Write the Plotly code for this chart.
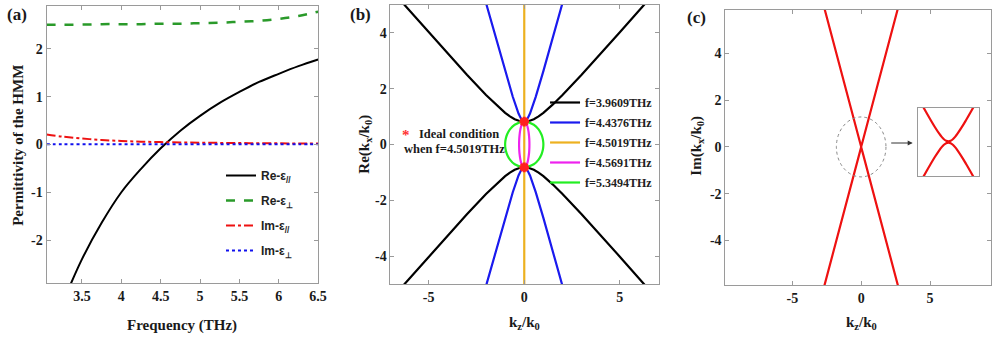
import plotly.graph_objects as go

# ---------------- data ----------------
# (a) permittivity vs frequency
freq_re_par = [3.30, 3.50, 3.75, 4.00, 4.25, 4.50, 4.75, 5.00, 5.25, 5.50, 5.75, 6.00, 6.25, 6.50]
re_eps_par = [-3.14, -2.40, -1.64, -1.00, -0.51, -0.08, 0.29, 0.60, 0.87, 1.10, 1.31, 1.48, 1.64, 1.78]
freq = [3.05, 3.25, 3.50, 3.75, 4.00, 4.25, 4.50, 4.75, 5.00, 5.25, 5.50, 5.75, 6.00, 6.25, 6.50]
re_eps_perp = [2.51, 2.51, 2.51, 2.52, 2.52, 2.52, 2.53, 2.53, 2.54, 2.55, 2.57, 2.59, 2.63, 2.69, 2.78]
im_eps_par = [0.21, 0.165, 0.125, 0.095, 0.075, 0.06, 0.05, 0.043, 0.038, 0.034, 0.03, 0.027, 0.025, 0.022, 0.02]
im_eps_perp = [0.003, 0.003, 0.003, 0.003, 0.003, 0.003, 0.003, 0.003, 0.003, 0.003, 0.003, 0.003, 0.004, 0.005, 0.006]
a_xticks = [3.5, 4, 4.5, 5, 5.5, 6, 6.5]
a_xlabels = ["3.5", "4", "4.5", "5", "5.5", "6", "6.5"]
a_yticks = [-2, -1, 0, 1, 2]
a_ylabels = ["-2", "-1", "0", "1", "2"]

# (b) Re(kx/k0) vs kz/k0 (upper branches; lower branches are mirror images)
kz_f1 = [-6.3, -5.0, -4.0, -3.0, -2.0, -1.5, -1.0, -0.75, -0.5, -0.25, 0.0, 0.25, 0.5, 0.75, 1.0, 1.5, 2.0, 3.0, 4.0, 5.0, 6.3]
kx_f1 = [5.03, 4.02, 3.25, 2.50, 1.775, 1.437, 1.136, 1.009, 0.908, 0.842, 0.819, 0.842, 0.908, 1.009, 1.136, 1.437, 1.775, 2.50, 3.25, 4.02, 5.03]
kz_f2 = [-2.0, -1.5, -1.0, -0.6, -0.3, -0.15, 0.0, 0.15, 0.3, 0.6, 1.0, 1.5, 2.0]
kx_f2 = [5.07, 3.84, 2.63, 1.71, 1.111, 0.90, 0.819, 0.90, 1.111, 1.71, 2.63, 3.84, 5.07]
kz_f3 = [0.0, 0.0]
kx_f3 = [-5.0, 5.0]
kz_f4 = [-0.27, -0.2687, -0.2619, -0.243, -0.2025, -0.135, 0.0, 0.135, 0.2025, 0.243, 0.2619, 0.2687, 0.27]
kx_f4 = [0.0, 0.08, 0.20, 0.357, 0.542, 0.71, 0.82, 0.71, 0.542, 0.357, 0.20, 0.08, 0.0]
kz_f5 = [-1.0, -0.995, -0.97, -0.9, -0.75, -0.5, 0.0, 0.5, 0.75, 0.9, 0.97, 0.995, 1.0]
kx_f5 = [0.0, 0.08, 0.20, 0.357, 0.542, 0.71, 0.82, 0.71, 0.542, 0.357, 0.20, 0.08, 0.0]
ideal_kz = [0.0, 0.0]
ideal_kx = [0.82, -0.82]
freq_labels = ["f=3.9609THz", "f=4.4376THz", "f=4.5019THz", "f=4.5691THz", "f=5.3494THz"]
k_xticks = [-5, 0, 5]
k_xlabels = ["-5", "0", "5"]
k_yticks = [-4, -2, 0, 2, 4]
k_ylabels = ["-4", "-2", "0", "2", "4"]

# (c) Im(kx/k0) vs kz/k0
kz_im = [-2.7, -2.0, -1.0, -0.5, -0.1, 0.0, 0.1, 0.5, 1.0, 2.0, 2.7]
kx_im = [5.99, 4.44, 2.22, 1.11, 0.222, 0.01, 0.222, 1.11, 2.22, 4.44, 5.99]
kz_zoom = [-0.14, -0.12, -0.10, -0.08, -0.06, -0.04, -0.03, -0.02, -0.01, 0.0, 0.01, 0.02, 0.03, 0.04, 0.06, 0.08, 0.10, 0.12, 0.14]
kx_zoom = [0.2437, 0.2009, 0.1588, 0.1177, 0.0783, 0.0425, 0.0271, 0.0145, 0.006, 0.003, 0.006, 0.0145, 0.0271, 0.0425, 0.0783, 0.1177, 0.1588, 0.2009, 0.2437]

# ---------------- helpers ----------------
def mirror(xs, ys):
    return list(xs) + [None] + list(xs), list(ys) + [None] + [-v for v in ys]

def loop(xs, ys):
    return list(xs) + list(reversed(xs)), list(ys) + [-v for v in reversed(ys)]

def bold(labels):
    return ["<b>%s</b>" % s for s in labels]

W, H = 1000, 339
def px(x):
    return x / W
def py(y):
    return 1 - y / H

SERIF = "Liberation Serif, Times New Roman, serif"
SANS = "Liberation Sans, Arial, sans-serif"
GRAY = "#9a9a9a"

fig = go.Figure()

# (a)
a_traces = [
    (freq_re_par, re_eps_par, "black", 2, "solid", "Re-ε<sub>//</sub>"),
    (freq, re_eps_perp, "#2a9a2a", 2.5, "dash", "Re-ε<sub>⊥</sub>"),
    (freq, im_eps_par, "#ee1111", 2, "dashdot", "Im-ε<sub>//</sub>"),
    (freq, im_eps_perp, "#1010ee", 2, "dot", "Im-ε<sub>⊥</sub>"),
]
for i, (xs, ys, c, w, d, nm) in enumerate(a_traces):
    fig.add_trace(go.Scatter(x=xs, y=ys, mode="lines", line=dict(color=c, width=w, dash=d, shape="spline"),
                             name=nm, xaxis="x", yaxis="y", legend="legend", legendgroup="a%d" % i))

# (b)
colors_b = ["black", "#1a1aee", "#EDB120", "#ee22ee", "#22ee22"]
x1, y1 = mirror(kz_f1, kx_f1)
x2, y2 = mirror(kz_f2, kx_f2)
x4, y4 = loop(kz_f4, kx_f4)
x5, y5 = loop(kz_f5, kx_f5)
series_b = [(x1, y1, "linear"), (x2, y2, "linear"), (kz_f3, kx_f3, "linear"), (x4, y4, "spline"), (x5, y5, "spline")]
for i, ((xs, ys, shp), c, lab) in enumerate(zip(series_b, colors_b, freq_labels)):
    fig.add_trace(go.Scatter(x=xs, y=ys, mode="lines", line=dict(color=c, width=2.2, shape=shp),
                             name=lab, xaxis="x2", yaxis="y2", legend="legend2", legendgroup="b%d" % i))
fig.add_trace(go.Scatter(x=ideal_kz, y=ideal_kx, mode="markers",
                         marker=dict(symbol="asterisk-open", size=8, color="#ff2020", line=dict(color="#ff2020", width=3)),
                         showlegend=False, xaxis="x2", yaxis="y2"))

# (c)
xc, yc = mirror(kz_im, kx_im)
fig.add_trace(go.Scatter(x=xc, y=yc, mode="lines", line=dict(color="#ee1111", width=2.2),
                         showlegend=False, xaxis="x3", yaxis="y3"))
xz, yz = mirror(kz_zoom, kx_zoom)
fig.add_trace(go.Scatter(x=xz, y=yz, mode="lines", line=dict(color="#ee1111", width=2.2, shape="spline"),
                         showlegend=False, xaxis="x4", yaxis="y4"))

tickfont = dict(family=SERIF, size=14, color="#1a1a1a", weight="bold")
def axis(domain, rng, tickvals, ticktext, anchor):
    return dict(domain=domain, range=rng, tickvals=tickvals, ticktext=bold(ticktext), ticks="inside", ticklen=4,
                tickcolor=GRAY, showline=True, linecolor=GRAY, linewidth=1, mirror="ticks", showgrid=False,
                zeroline=False, tickfont=tickfont, anchor=anchor, fixedrange=True)

inset_ax = dict(showticklabels=False, ticks="", showline=True, linecolor=GRAY, mirror=True,
                showgrid=False, zeroline=False, fixedrange=True)

fig.update_layout(
    width=W, height=H, margin=dict(l=0, r=0, t=0, b=0),
    paper_bgcolor="white", plot_bgcolor="white",
    xaxis=axis([px(47), px(321)], [3.05, 6.5], a_xticks, a_xlabels, "y"),
    yaxis=axis([py(283), py(6)], [-2.9, 2.9], a_yticks, a_ylabels, "x"),
    xaxis2=axis([px(394), px(665)], [-7.0, 7.05], k_xticks, k_xlabels, "y2"),
    yaxis2=axis([py(284), py(5)], [-5, 5], k_yticks, k_ylabels, "x2"),
    xaxis3=axis([px(732), px(1000)], [-9.86, 9.43], k_xticks, k_xlabels, "y3"),
    yaxis3=axis([py(285), py(10)], [-5.9, 5.85], k_yticks, k_ylabels, "x3"),
    xaxis4=dict(domain=[px(926), px(988)], range=[-0.1375, 0.1375], anchor="y4", **inset_ax),
    yaxis4=dict(domain=[py(176), py(108)], range=[-0.18, 0.18], anchor="x4", **inset_ax),
    legend=dict(x=px(223), y=py(161), xanchor="left", yanchor="top", bgcolor="rgba(0,0,0,0)",
                font=dict(family=SANS, size=12, color="#222", weight="bold"), tracegroupgap=6, itemwidth=30),
    legend2=dict(x=px(550), y=py(88), xanchor="left", yanchor="top", bgcolor="rgba(0,0,0,0)",
                 font=dict(family=SERIF, size=12, color="#222", weight="bold"), tracegroupgap=1, itemwidth=30),
    showlegend=True,
)

annots = []
def txt(text, x, y, size=15, angle=0, family=SERIF, color="#1a1a1a", xanchor="center"):
    annots.append(dict(text=text, x=px(x), y=py(y), xref="paper", yref="paper", showarrow=False,
                       textangle=angle, xanchor=xanchor, yanchor="middle",
                       font=dict(family=family, size=size, color=color, weight="bold")))

txt("(a)", 17, 15, 17)
txt("(b)", 364, 15, 17)
txt("(c)", 703, 17, 17)
txt("Frequency (THz)", 184, 325, 15)
txt("Permittivity of the HMM", 18, 145, 15, angle=-90)
txt("Re(k<sub>x</sub>/k<sub>0</sub>)", 368, 144, 15, angle=-90)
txt("k<sub>z</sub>/k<sub>0</sub>", 529, 323, 15)
txt("Im(k<sub>x</sub>/k<sub>0</sub>)", 703, 146, 15, angle=-90)
txt("k<sub>z</sub>/k<sub>0</sub>", 869, 323, 15)
txt("*", 410, 135, 15, color="#ff3030")
txt("Ideal condition", 421, 134, 12.5, xanchor="left")
txt("when f=4.5019THz", 406, 149, 12.5, xanchor="left")

# arrow from dotted circle to inset
annots.append(dict(x=px(921), y=py(143), ax=-23, ay=0, xref="paper", yref="paper",
                   axref="pixel", ayref="pixel", showarrow=True, arrowhead=2, arrowsize=1,
                   arrowwidth=1, arrowcolor="#333", text=""))
fig.update_layout(annotations=annots)

fig.add_shape(type="circle", xref="x3", yref="y3", x0=-1.8, x1=1.8, y0=-1.28, y1=1.28,
              line=dict(color="#888", width=1, dash="dot"))

fig.write_html("out.html")
